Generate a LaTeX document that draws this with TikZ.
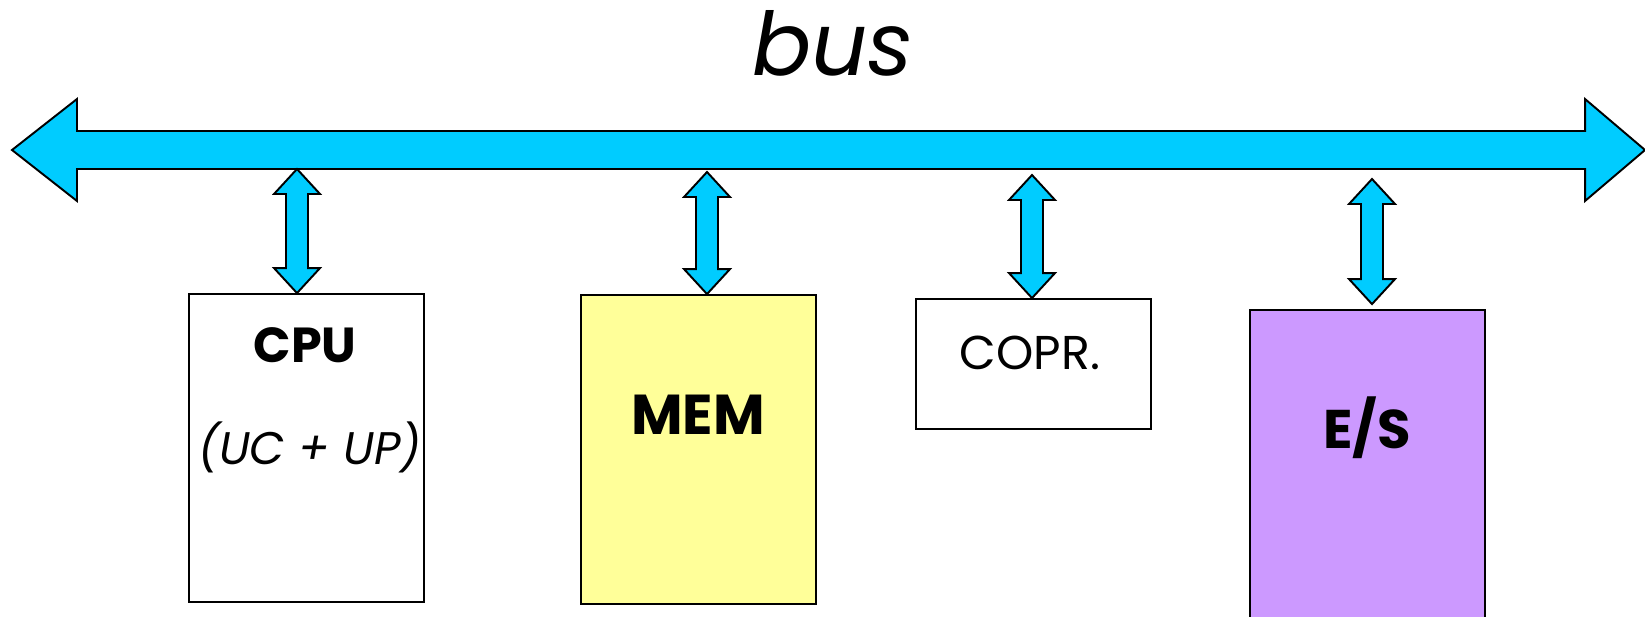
\documentclass[tikz,border=0pt]{standalone}
\usepackage{fontspec}
\setmainfont{Poppins}
\usetikzlibrary{calc}

\definecolor{buscyan}{HTML}{00CCFF}
\definecolor{memyellow}{HTML}{FFFF99}
\definecolor{iolilac}{HTML}{CC99FF}

\begin{document}
\begin{tikzpicture}[x=0.02cm, y=-0.02cm,
    unit/.style={draw, line width=1.1pt, minimum width=4.7cm, inner sep=0pt},
    busarrow/.style={draw, fill=buscyan, line width=1.1pt, to path={
        let \p1=(\tikztostart), \p2=(\tikztotarget) in
        -- (\x1+1.3cm,\y1+1.02cm) -- (\x1+1.3cm,\y1+0.38cm)
        -- (\x2-1.2cm,\y2+0.38cm) -- (\x2-1.2cm,\y2+1.02cm) -- (\tikztotarget)
        -- (\x2-1.2cm,\y2-1.02cm) -- (\x2-1.2cm,\y2-0.38cm)
        -- (\x1+1.3cm,\y1-0.38cm) -- (\x1+1.3cm,\y1-1.02cm) -- cycle}},
    buslink/.style={draw, fill=buscyan, line width=1.1pt, to path={
        let \p1=(\tikztostart), \p2=(\tikztotarget) in
        -- (\x1+0.46cm,\y1-0.5cm) -- (\x1+0.22cm,\y1-0.5cm)
        -- (\x2+0.22cm,\y2+0.5cm) -- (\x2+0.46cm,\y2+0.5cm) -- (\tikztotarget)
        -- (\x2-0.46cm,\y2+0.5cm) -- (\x2-0.22cm,\y2+0.5cm)
        -- (\x1-0.22cm,\y1-0.5cm) -- (\x1-0.46cm,\y1-0.5cm) -- cycle}}]
    \useasboundingbox (0,0) rectangle (1645,616);

    % the units hanging off the bus
    \node[unit, minimum height=6.16cm] (cpu) at (306.5,448) {};
    \node[unit, minimum height=6.18cm, fill=memyellow] (mem) at (698.5,449.5) {};
    \node[unit, minimum height=2.6cm] (copr) at (1033.5,364) {};
    \node[unit, minimum height=6.6cm, fill=iolilac] (es) at (1367.5,475) {};

    \node[font=\fontsize{28}{30}\selectfont\bfseries] (cpuname) at (305,345) {CPU};
    \node[font=\fontsize{26}{28}\selectfont\itshape] (cpusub) at (310,447) {(UC + UP)};
    \node[font=\fontsize{32}{34}\selectfont\bfseries] (memname) at (698,415) {MEM};
    \node[font=\fontsize{27}{29}\selectfont] (coprname) at (1030,353) {COPR.};
    \node[font=\fontsize{31}{33}\selectfont\bfseries] (esname) at (1367,428) {E/S};

    % the bus itself
    \coordinate (busL) at (12,150);
    \coordinate (busR) at (1645,150);
    \draw[busarrow] (busL) to (busR);
    \node[font=\fontsize{50}{52}\selectfont\itshape] (busname) at (833,43) {bus};

    \coordinate (cpuport) at (297,169);
    \coordinate (memport) at (707,172);
    \coordinate (coprport) at (1032,175);
    \coordinate (esport) at (1372,179);
    \draw[buslink] (cpuport) to (cpuport |- cpu.north);
    \draw[buslink] (memport) to (memport |- mem.north);
    \draw[buslink] (coprport) to (coprport |- copr.north);
    \draw[buslink] (esport) to ([yshift=0.1cm]esport |- es.north);
\end{tikzpicture}
\end{document}
